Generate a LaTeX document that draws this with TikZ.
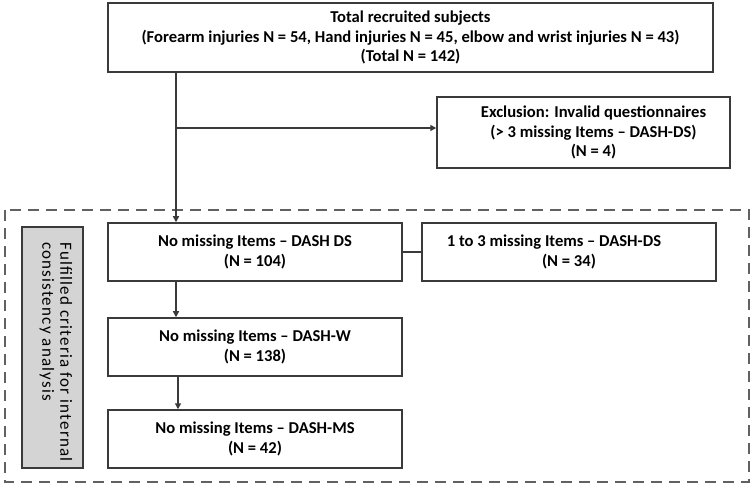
\documentclass[tikz,border=0pt]{standalone}
\usepackage{fontspec}
\setmainfont{Carlito}
\usetikzlibrary{arrows.meta,calc}
\definecolor{edge}{HTML}{3A3A3A}
\definecolor{grayfill}{HTML}{D4D4D4}
\tikzset{
  box/.style={draw=edge, line width=1.5pt, fill=white, inner sep=0pt, align=center,
    font=\bfseries\fontsize{16.6}{19.5}\selectfont},
  arr/.style={draw=edge, line width=1.5pt, -{Triangle[length=6pt,width=6pt]}},
  conn/.style={draw=edge, line width=1.5pt},
  dashbox/.style={draw=edge!80, line width=2pt, dash pattern=on 11pt off 7pt},
  graybox/.style={draw=edge, line width=1.5pt, fill=grayfill, inner sep=0pt}
}
\begin{document}
\begin{tikzpicture}[x=1pt,y=-1pt]
\useasboundingbox (0,0) rectangle (755,486);
\draw[dashbox] (5,210) rectangle (749,482);
\node[box, minimum width=605pt, minimum height=69pt] (top) at (410.5,37.5)
  {Total recruited subjects\\(Forearm injuries N = 54, Hand injuries N = 45, elbow and wrist injuries N = 43)\\(Total N = 142)};
\node[box, minimum width=293pt, minimum height=71pt] (excl) at (583.5,132.5)
  {\hspace*{20pt}Exclusion: Invalid questionnaires\\\hspace*{20pt}(> 3 missing Items – DASH-DS)\\\hspace*{20pt}(N = 4)};
\node[box, minimum width=294pt, minimum height=58pt] (ds) at (255,252)
  {No missing Items – DASH DS\\(N = 104)};
\node[box, minimum width=294pt, minimum height=58pt] (rt) at (569,252)
  {1 to 3 missing Items – DASH-DS\hspace*{30pt}\\(N = 34)};
\node[box, minimum width=294pt, minimum height=58pt] (w) at (255,347)
  {No missing Items – DASH-W\\(N = 138)};
\node[box, minimum width=294pt, minimum height=58pt] (ms) at (255,439)
  {No missing Items – DASH-MS\\(N = 42)};
\node[graybox, minimum width=61pt, minimum height=241pt] (gray) at (52.5,347.5) {};
\node[rotate=-90, anchor=north west, align=left, inner sep=0pt,
  font=\fontsize{17}{18}\selectfont\addfontfeatures{LetterSpace=7}] (gtext) at (72.5,242)
  {Fulfilled criteria for internal\\consistency analysis};
\coordinate (vx) at (176,0);
\coordinate (vx2) at (178,0);
\draw[arr] (vx |- top.south) -- (vx |- ds.north);
\draw[arr] (vx |- 0,128) -- (excl.west |- 0,128);
\draw[conn] (ds.east) -- (rt.west);
\draw[arr] (vx |- ds.south) -- (vx |- w.north);
\draw[arr] (vx2 |- w.south) -- (vx2 |- ms.north);
\end{tikzpicture}
\end{document}
